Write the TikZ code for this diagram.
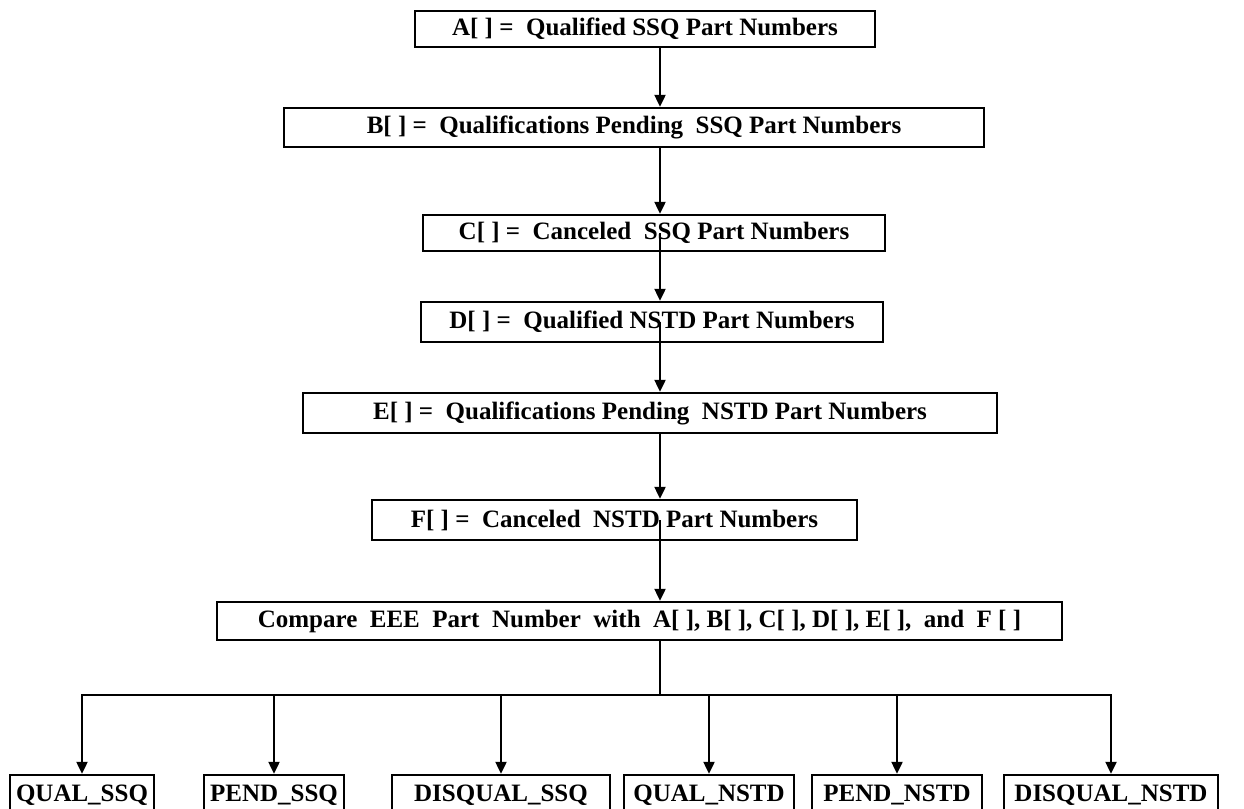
\documentclass[tikz,border=0pt]{standalone}
\usepackage{fontspec}
\setmainfont{Liberation Serif}
\usetikzlibrary{arrows.meta}
\tikzset{
  listbox/.style={draw, line width=2.4pt, inner sep=0pt, font=\bfseries\fontsize{25}{30}\selectfont},
  flow/.style={line width=2.2pt, -{Triangle[width=11pt,length=12pt]}}
}

\begin{document}
\begin{tikzpicture}[x=1pt,y=-1pt]
	%%%%% START %%%%%
	\useasboundingbox (0,0) rectangle (1244,808);
	\clip (0,0) rectangle (1244,808);

	% lists of part numbers
	\node[listbox, minimum width=460pt, minimum height=36pt] (lstA) at (645,29) {A[ ] = \ Qualified SSQ Part Numbers};
	\node[listbox, minimum width=700pt, minimum height=39pt] (lstB) at (634,127.5) {B[ ] = \ Qualifications Pending \ SSQ Part Numbers};
	\node[listbox, minimum width=462pt, minimum height=36pt] (lstC) at (654,233) {C[ ] = \ Canceled \ SSQ Part Numbers};
	\node[listbox, minimum width=462pt, minimum height=40pt] (lstD) at (652,322) {D[ ] = \ Qualified NSTD Part Numbers};
	\node[listbox, minimum width=694pt, minimum height=40pt] (lstE) at (650,413) {E[ ] = \ Qualifications Pending \ NSTD Part Numbers};
	\node[listbox, minimum width=485pt, minimum height=40pt] (lstF) at (614.5,520) {F[ ] = \ Canceled \ NSTD Part Numbers};

	\node[listbox, minimum width=845pt, minimum height=38pt] (cmp) at (639.5,621) {Compare \ EEE \ Part \ Number \ with \ A[ ], B[ ], C[ ], D[ ], E[ ], \ and \ F [ ]};

	% results
	\node[listbox, minimum width=144pt, minimum height=40pt] (qs) at (82,795) {QUAL\_SSQ};
	\node[listbox, minimum width=140pt, minimum height=40pt] (ps) at (274,795) {PEND\_SSQ};
	\node[listbox, minimum width=218pt, minimum height=40pt] (ds) at (501,795) {DISQUAL\_SSQ};
	\node[listbox, minimum width=170pt, minimum height=40pt] (qn) at (709,795) {QUAL\_NSTD};
	\node[listbox, minimum width=170pt, minimum height=40pt] (pn) at (897,795) {PEND\_NSTD};
	\node[listbox, minimum width=214pt, minimum height=40pt] (dn) at (1111,795) {DISQUAL\_NSTD};

	\coordinate (split) at (660,695);

	% chain
	\draw[flow] (lstA.south -| split) -- (lstB.north -| split);
	\draw[flow] (lstB.south -| split) -- (lstC.north -| split);
	\draw[flow] (lstC.center -| split) -- (lstD.north -| split);
	\draw[flow] (lstD.center -| split) -- (lstE.north -| split);
	\draw[flow] (lstE.south -| split) -- (lstF.north -| split);
	\draw[flow] (lstF.center -| split) -- (cmp.north -| split);

	% fan out
	\draw[line width=2.2pt] (cmp.south -| split) -- (split);
	\foreach \res in {qs,ps,ds,qn,pn,dn}
		\draw[flow] (split) -| (\res.north);

	%%%%% END %%%%%
\end{tikzpicture}
\end{document}
